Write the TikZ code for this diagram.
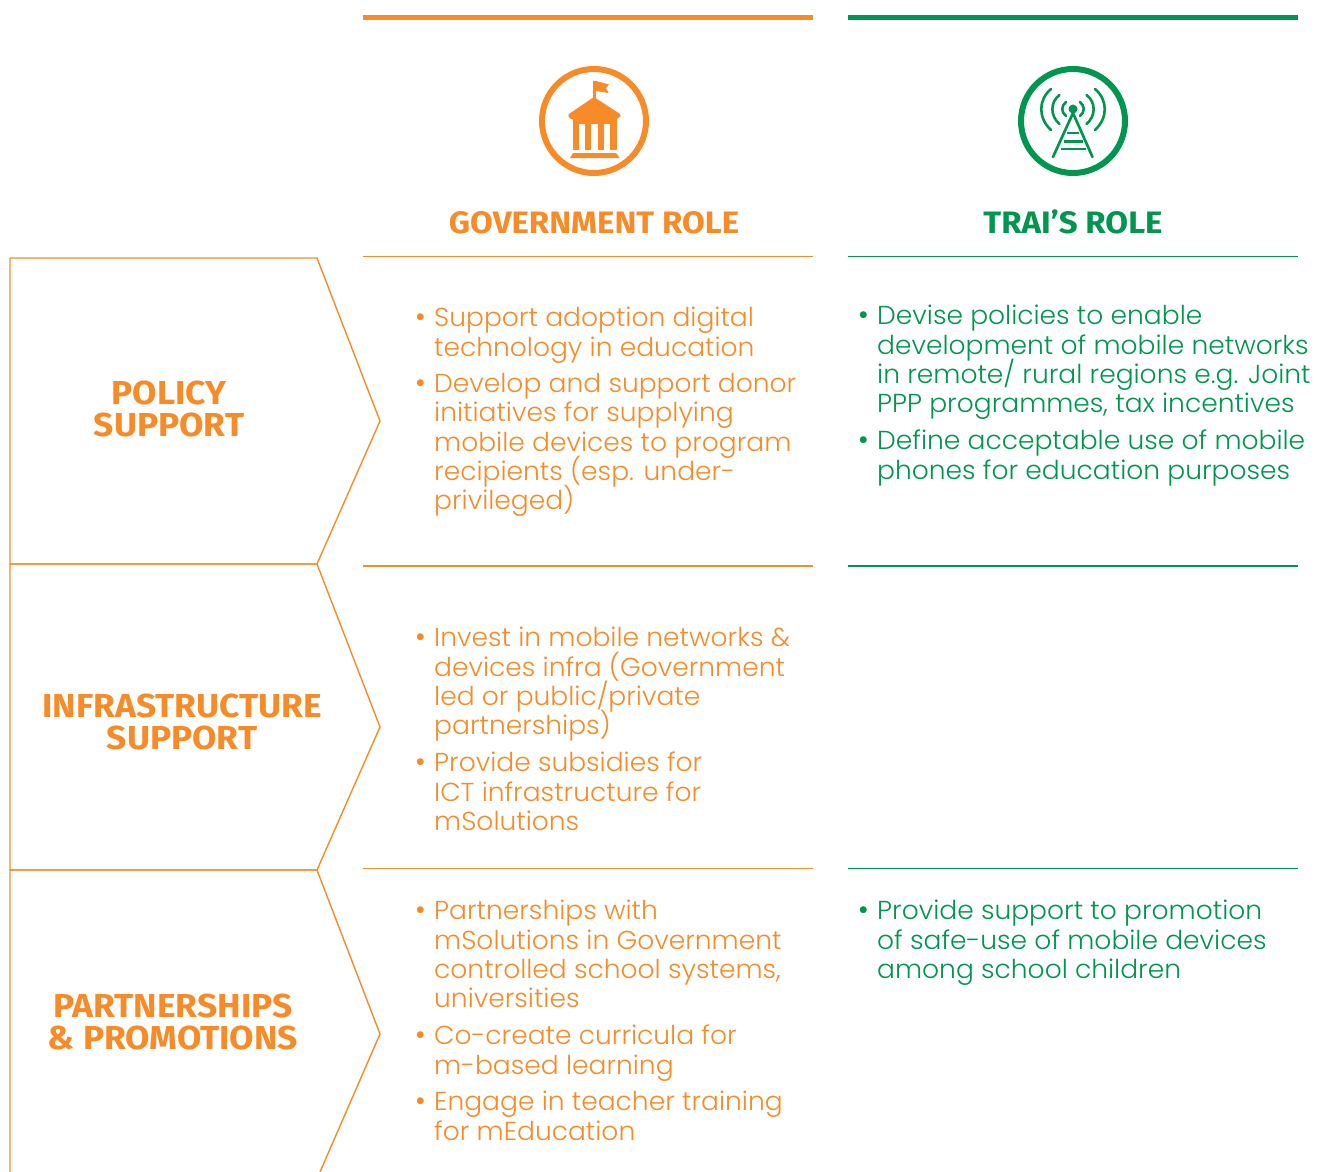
\documentclass[tikz,border=0pt]{standalone}
\usepackage{fontspec}
\setmainfont{Poppins}[UprightFont=* Light,FakeStretch=1.02]
\newfontfamily\bulletfont{Poppins}
\newfontfamily\headfont{Fira Sans}[UprightFont=* Bold,FakeStretch=1.065]
\definecolor{gorange}{HTML}{F68B28}
\definecolor{tgreen}{HTML}{00964F}
\tikzset{
  x=1pt,y=-1pt,
  bodytext/.style={anchor=north west,inner sep=0pt,align=left,font=\fontsize{26}{29.3}\selectfont,
    execute at begin node={\lineskiplimit=-50pt\rule{0pt}{22pt}}},
  gov/.style={bodytext,text=gorange},
  trai/.style={bodytext,text=tgreen},
  dotg/.style={anchor=center,inner sep=0pt,text=gorange,font=\bulletfont\fontsize{28}{28}\selectfont},
  dott/.style={anchor=center,inner sep=0pt,text=tgreen,font=\bulletfont\fontsize{28}{28}\selectfont},
  chev/.style={draw=gorange,line width=1.4pt,line join=miter},
  rule/.style={line width=1.3pt},
  headtext/.style={inner sep=0pt,font=\headfont\fontsize{31}{32}\selectfont,align=center},
  sidetext/.style={inner sep=0pt,text=gorange,font=\headfont\fontsize{33.2}{32}\selectfont,align=center},
}
\begin{document}
\begin{tikzpicture}
\useasboundingbox (0,0) rectangle (1322,1172);
% top bars
\fill[gorange] (363,15) rectangle (813,20.5);
\fill[tgreen] (848,15) rectangle (1298,20.5);
% rules
\foreach \yy in {256.8,566,868.8}{
  \draw[rule,gorange] (363,\yy) -- (813,\yy);
  \draw[rule,tgreen] (848,\yy) -- (1298,\yy);
}
% chevrons
\draw[chev] (10,258) -- (317,258) -- (380,421) -- (317,564) -- (10,564) -- cycle;
\draw[chev] (10,564) -- (317,564) -- (380,727) -- (317,870) -- (10,870) -- cycle;
\draw[chev] (10,1172) -- (10,870) -- (317,870) -- (380,1034) -- (320,1172);
% government icon
\draw[gorange,line width=6pt] (594,121) circle (52);
\fill[gorange,rounded corners=1.5pt] (594,97) -- (621.5,115) -- (617,119.5) -- (571,119.5) -- (567.5,115) -- cycle;
\fill[gorange] (573,119) rectangle (617,124);
\fill[gorange] (573,124) rectangle (579,150);
\fill[gorange] (585,124) rectangle (591,150);
\fill[gorange] (597.5,124) rectangle (603.5,150);
\fill[gorange] (610,124) rectangle (617,150);
\fill[gorange] (573,153) -- (616,153) -- (619.5,158) -- (570,158) -- cycle;
\fill[gorange] (593,81) rectangle (596,98);
\fill[gorange] (596,81) -- (609,84.5) -- (606,88) -- (608.5,93) -- (596,91) -- cycle;
% tower icon
\draw[tgreen,line width=6pt] (1073,121) circle (52);
\fill[tgreen] (1073,109) circle (4.5);
\draw[tgreen,line width=2.7pt,line cap=round] (1073,113) -- (1053,157) (1073,113) -- (1092.5,157);
\draw[tgreen,line width=2.4pt] (1067,133) -- (1079,133) (1063.5,141.5) -- (1082.5,141.5) (1060.5,149) -- (1085.5,149);
\draw[tgreen,line width=2.6pt,line cap=round]
  (1066,102) .. controls (1061,106) and (1061,112) .. (1066,116)
  (1080,102) .. controls (1085,106) and (1085,112) .. (1080,116)
  (1059.5,95) .. controls (1050,102) and (1050,116) .. (1059.5,124)
  (1086.5,95) .. controls (1096,102) and (1096,116) .. (1086.5,124)
  (1051,89) .. controls (1038,100) and (1038,118) .. (1051,130)
  (1095,89) .. controls (1108,100) and (1108,118) .. (1095,130);
% headings
\node[headtext,text=gorange] (h1) at (594,222.5) {GOVERNMENT ROLE};
\node[headtext,text=tgreen] (h2) at (1073,222) {TRAI’S ROLE};
% side labels
\node[sidetext] (s1) at (169,408.5) {POLICY\\SUPPORT};
\node[sidetext] (s2) at (182,721.5) {INFRASTRUCTURE\\SUPPORT};
\node[sidetext] (s3) at (173,1021.5) {PARTNERSHIPS\\\& PROMOTIONS};
% government text
\node[gov] (g1) at (434,307) {Support adoption digital\\technology in education};
\node[dotg] (gb1) at (420.5,320) {•};
\node[gov] (g2) at (434,373) {Develop and support donor\\initiatives for supplying\\mobile devices to program\\recipients (esp. under-\\privileged)};
\node[dotg] (gb2) at (420.5,386) {•};
\node[gov] (g3) at (434,627) {Invest in mobile networks \&\\devices infra (Government\\led or public/private\\partnerships)};
\node[dotg] (gb3) at (420.5,640) {•};
\node[gov] (g4) at (434,752) {Provide subsidies for\\ICT infrastructure for\\mSolutions};
\node[dotg] (gb4) at (420.5,765) {•};
\node[gov] (g5) at (434,900) {Partnerships with\\mSolutions in Government\\controlled school systems,\\universities};
\node[dotg] (gb5) at (420.5,913) {•};
\node[gov] (g6) at (434,1025) {Co-create curricula for\\m-based learning};
\node[dotg] (gb6) at (420.5,1038) {•};
\node[gov] (g7) at (434,1091) {Engage in teacher training\\for mEducation};
\node[dotg] (gb7) at (420.5,1104) {•};
% TRAI text
\node[trai] (t1) at (877,305) {Devise policies to enable\\development of mobile networks\\in remote/ rural regions e.g. Joint\\PPP programmes, tax incentives};
\node[dott] (tb1) at (863.5,318) {•};
\node[trai] (t2) at (877,430) {Define acceptable use of mobile\\phones for education purposes};
\node[dott] (tb2) at (863.5,443) {•};
\node[trai] (t3) at (877,900) {Provide support to promotion\\of safe-use of mobile devices\\among school children};
\node[dott] (tb3) at (863.5,913) {•};
\end{tikzpicture}
\end{document}
